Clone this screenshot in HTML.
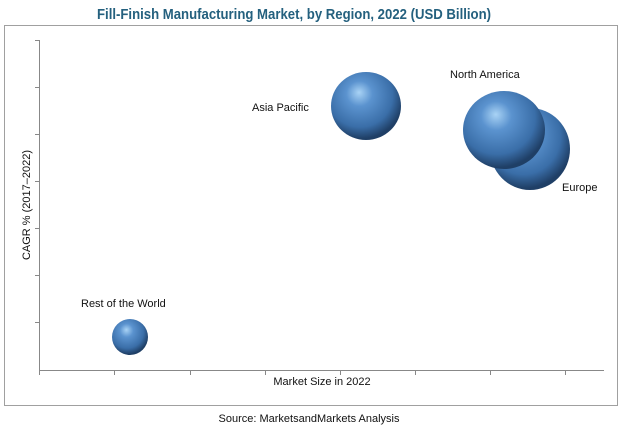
<!DOCTYPE html>
<html><head><style>
body{margin:0;background:#fff;}
svg text{font-family:"Liberation Sans",sans-serif;}
</style></head><body>
<svg width="619" height="430" viewBox="0 0 619 430" xmlns="http://www.w3.org/2000/svg">
<defs>
<radialGradient id="g" cx="0.42" cy="0.36" r="0.62" fx="0.4" fy="0.3">
<stop offset="0" stop-color="#a9d3f5"/>
<stop offset="0.3" stop-color="#5b93cf"/>
<stop offset="0.75" stop-color="#3a6ea8"/>
<stop offset="1" stop-color="#1f3f66"/>
</radialGradient>
</defs>
<text x="294" y="19" text-anchor="middle" font-size="15" font-weight="bold" fill="#24607e" textLength="394" lengthAdjust="spacingAndGlyphs">Fill-Finish Manufacturing Market, by Region, 2022 (USD Billion)</text>
<rect x="4.5" y="25.5" width="613" height="380" fill="#fff" stroke="#a0a0a0"/>
<g stroke="#888" stroke-width="1">
<line x1="39.5" y1="40" x2="39.5" y2="370"/>
<line x1="39" y1="370.5" x2="604" y2="370.5"/>
<line x1="35" y1="40.5" x2="39" y2="40.5"/><line x1="35" y1="87.5" x2="39" y2="87.5"/><line x1="35" y1="134.5" x2="39" y2="134.5"/><line x1="35" y1="181.5" x2="39" y2="181.5"/><line x1="35" y1="228.5" x2="39" y2="228.5"/><line x1="35" y1="275.5" x2="39" y2="275.5"/><line x1="35" y1="322.5" x2="39" y2="322.5"/>
<line x1="39.5" y1="370" x2="39.5" y2="375"/><line x1="114.5" y1="370" x2="114.5" y2="375"/><line x1="190.5" y1="370" x2="190.5" y2="375"/><line x1="265.5" y1="370" x2="265.5" y2="375"/><line x1="340.5" y1="370" x2="340.5" y2="375"/><line x1="415.5" y1="370" x2="415.5" y2="375"/><line x1="490.5" y1="370" x2="490.5" y2="375"/><line x1="565.5" y1="370" x2="565.5" y2="375"/>
</g>
<ellipse cx="366" cy="106" rx="35" ry="34" fill="url(#g)"/>
<ellipse cx="530" cy="149" rx="40" ry="41" fill="url(#g)"/>
<ellipse cx="504" cy="130" rx="41" ry="39" fill="url(#g)"/>
<ellipse cx="130" cy="337" rx="18" ry="18" fill="url(#g)"/>
<g font-size="11" fill="#111">
<text x="252" y="111">Asia Pacific</text>
<text x="450" y="78">North America</text>
<text x="562" y="191">Europe</text>
<text x="81" y="307">Rest of the World</text>
<text x="322" y="385" text-anchor="middle">Market Size in 2022</text>
<text transform="translate(30,205) rotate(-90)" text-anchor="middle">CAGR % (2017–2022)</text>
<text x="309" y="422" text-anchor="middle">Source: MarketsandMarkets Analysis</text>
</g>
</svg>
</body></html>
